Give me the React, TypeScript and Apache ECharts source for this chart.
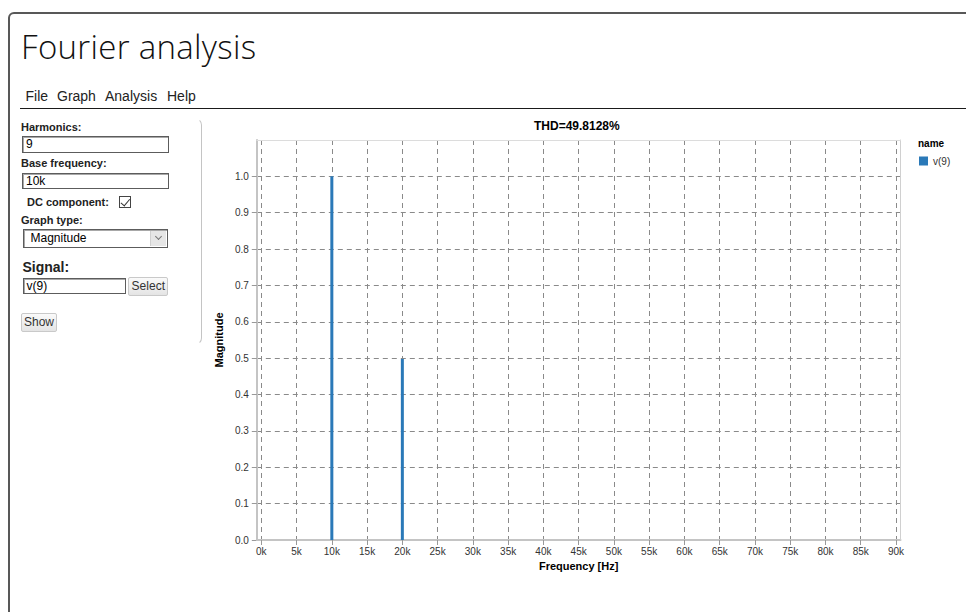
import React, { useEffect, useRef } from "react";
import * as echarts from "echarts";

// ---- data ----
const harmonicFreqs = [0, 10000, 20000, 30000, 40000, 50000, 60000, 70000, 80000, 90000];
const magnitudes = [0, 1.0, 0.498, 0, 0, 0, 0, 0, 0, 0];
const xTickValues = [0, 5000, 10000, 15000, 20000, 25000, 30000, 35000, 40000, 45000, 50000, 55000, 60000, 65000, 70000, 75000, 80000, 85000, 90000];
const yTickValues = [0, 0.1, 0.2, 0.3, 0.4, 0.5, 0.6, 0.7, 0.8, 0.9, 1.0];
const seriesName = "v(9)";
const thdText = "THD=49.8128%";
const menuItems = ["File", "Graph", "Analysis", "Help"];

const FONT = 'Arial, "Liberation Sans", sans-serif';
const BAR_COLOR = "#2a79b8";

function Chart() {
  const ref = useRef<HTMLDivElement>(null);
  useEffect(() => {
    if (!ref.current) return;
    const chart = echarts.init(ref.current, undefined, { renderer: "svg" });
    const xMin = -640;
    const xMax = 90640;
    const yMin = 0;
    const yMax = 1.1;
    chart.setOption({
      animation: false,
      textStyle: { fontFamily: FONT },
      title: [
        { text: thdText, left: 329, top: 10, padding: 0, textStyle: { fontSize: 12, fontWeight: "bold", color: "#000", fontFamily: FONT } },
        { text: "name", left: 713, top: 28, padding: 0, textStyle: { fontSize: 10, fontWeight: "bold", color: "#000", fontFamily: FONT } },
      ],
      legend: {
        left: 714, top: 46, padding: 0, orient: "vertical", itemWidth: 9, itemHeight: 9, icon: "rect",
        textStyle: { fontSize: 10, color: "#333", fontFamily: FONT }, data: [seriesName],
      },
      grid: { left: 48.5, top: 30, right: 65.5, bottom: 40 },
      xAxis: [
        {
          type: "value", min: xMin, max: xMax, splitNumber: 18, z: 3,
          axisLine: { show: true, onZero: false, lineStyle: { color: "#c4c4c4", width: 2 } },
          axisTick: { show: true, customValues: xTickValues, length: 5, lineStyle: { color: "#999" } },
          axisLabel: { customValues: xTickValues, formatter: (v: number) => `${Math.round(v / 1000)}k`, fontSize: 10, color: "#333", margin: 6 },
          splitLine: { show: true, lineStyle: { color: "#8a8a8a", type: [5, 4], width: 1 } },
          name: "Frequency [Hz]", nameLocation: "middle", nameGap: 19,
          nameTextStyle: { fontSize: 11, fontWeight: "bold", color: "#000" },
        },
        {
          type: "value", position: "top", min: xMin, max: xMax, z: 4,
          axisLine: { show: true, onZero: false, lineStyle: { color: "#dcdcdc", width: 1 } },
          axisTick: { show: false }, axisLabel: { show: false }, splitLine: { show: false },
        },
      ],
      yAxis: [
        {
          type: "value", min: yMin, max: yMax, interval: 0.1, z: 2,
          axisLine: { show: true, onZero: false, lineStyle: { color: "#c4c4c4", width: 2 } },
          axisTick: { show: true, customValues: yTickValues, length: 5, lineStyle: { color: "#999" } },
          axisLabel: { customValues: yTickValues, formatter: (v: number) => v.toFixed(1), fontSize: 10, color: "#333", margin: 8 },
          splitLine: { show: true, lineStyle: { color: "#8a8a8a", type: [5, 4], width: 1 } },
          name: "Magnitude", nameLocation: "middle", nameGap: 20,
          nameTextStyle: { fontSize: 11, fontWeight: "bold", color: "#000" },
        },
        {
          type: "value", position: "right", min: yMin, max: yMax, z: 4,
          axisLine: { show: true, onZero: false, lineStyle: { color: "#d0d0d0", width: 1 } },
          axisTick: { show: false }, axisLabel: { show: false }, splitLine: { show: false },
        },
      ],
      series: [
        {
          name: seriesName, type: "bar", xAxisIndex: 0, yAxisIndex: 0, barWidth: 3,
          itemStyle: { color: BAR_COLOR }, z: 5,
          data: harmonicFreqs.map((f, i) => [f, magnitudes[i]]),
        },
      ],
    });
    return () => chart.dispose();
  }, []);
  return <div ref={ref} style={{ position: "absolute", left: 205, top: 110, width: 761, height: 470 }} />;
}

const abs = (s: React.CSSProperties): React.CSSProperties => ({ position: "absolute", ...s });

const labelStyle = (left: number, top: number, size = 11): React.CSSProperties =>
  abs({ left, top, fontSize: size, fontWeight: "bold", color: "#222", whiteSpace: "nowrap", lineHeight: "normal" });

const inputStyle = (left: number, top: number, width: number, height: number): React.CSSProperties =>
  abs({
    left, top, width, height, boxSizing: "border-box", border: "1px solid #5c5c5c",
    boxShadow: "inset 1px 1px 0 #a8a8a8", background: "#fff", fontSize: 12, color: "#000",
    paddingLeft: 3, lineHeight: `${height - 2}px`, whiteSpace: "nowrap",
  });

const buttonStyle = (left: number, top: number, width: number, height: number): React.CSSProperties =>
  abs({
    left, top, width, height, boxSizing: "border-box", border: "1px solid #c9c9c9", borderRadius: 2,
    background: "linear-gradient(#fafafa, #e4e4e4)", fontSize: 12, color: "#333",
    textAlign: "center", lineHeight: `${height - 2}px`, whiteSpace: "nowrap",
  });

export default function App() {
  const menuLefts = [25.5, 57, 105, 167];
  return (
    <div style={abs({ left: 0, top: 0, width: 966, height: 612, overflow: "hidden", background: "#fff", fontFamily: FONT })}>
      <div style={abs({ left: 8, top: 12, width: 1000, height: 700, border: "2px solid #585858", borderRadius: 6, boxSizing: "border-box" })} />
      <div style={abs({ left: 21, top: 24, fontFamily: '"Open Sans", sans-serif', fontWeight: 300, fontSize: 33, color: "#111", whiteSpace: "nowrap", lineHeight: "normal", letterSpacing: 0.3 })}>
        Fourier analysis
      </div>
      {menuItems.map((m, i) => (
        <div key={m} style={abs({ left: menuLefts[i], top: 87.5, fontSize: 14, color: "#222", lineHeight: "normal", whiteSpace: "nowrap" })}>{m}</div>
      ))}
      <div style={abs({ left: 20, top: 107.5, width: 946, height: 1.3, background: "#1a1a1a" })} />

      {/* panel */}
      <div style={abs({ left: 150, top: 118, width: 52, height: 227, boxSizing: "border-box", borderRight: "1px solid #c4c4c4", borderTop: "1px solid transparent", borderBottom: "1px solid transparent", borderRadius: "0 7px 7px 0" })} />
      <div style={labelStyle(21, 120.5)}>Harmonics:</div>
      <div style={inputStyle(22, 136, 146.5, 16.5)}>9</div>
      <div style={labelStyle(21, 157)}>Base frequency:</div>
      <div style={inputStyle(22, 172.5, 146.5, 16.5)}>10k</div>
      <div style={labelStyle(27, 195.5)}>DC component:</div>
      <div style={abs({ left: 119, top: 196, width: 12, height: 12, boxSizing: "border-box", border: "1px solid #444", background: "#fff" })}>
        <div style={abs({ left: 3, top: 0, width: 4, height: 7.5, borderRight: "1.2px solid #333", borderBottom: "1.2px solid #333", transform: "rotate(40deg)" })} />
      </div>
      <div style={labelStyle(21, 214)}>Graph type:</div>
      <div style={inputStyle(22.5, 229, 145.5, 18.5)}>
        <span style={{ paddingLeft: 4 }}>Magnitude</span>
        <div style={abs({ right: 1, top: 1, width: 15, height: 14.5, background: "#e6e6e6", borderLeft: "1px solid #d0d0d0" })}>
          <div style={abs({ left: 4.5, top: 3, width: 4, height: 4, borderRight: "1px solid #777", borderBottom: "1px solid #777", transform: "rotate(45deg)" })} />
        </div>
      </div>
      <div style={labelStyle(22.5, 259, 14)}>Signal:</div>
      <div style={inputStyle(22.5, 277.5, 103.5, 16.5)}>v(9)</div>
      <div style={buttonStyle(128.3, 276.7, 40, 19)}>Select</div>
      <div style={buttonStyle(20.7, 313.3, 36.6, 18.4)}>Show</div>

      <Chart />
    </div>
  );
}
